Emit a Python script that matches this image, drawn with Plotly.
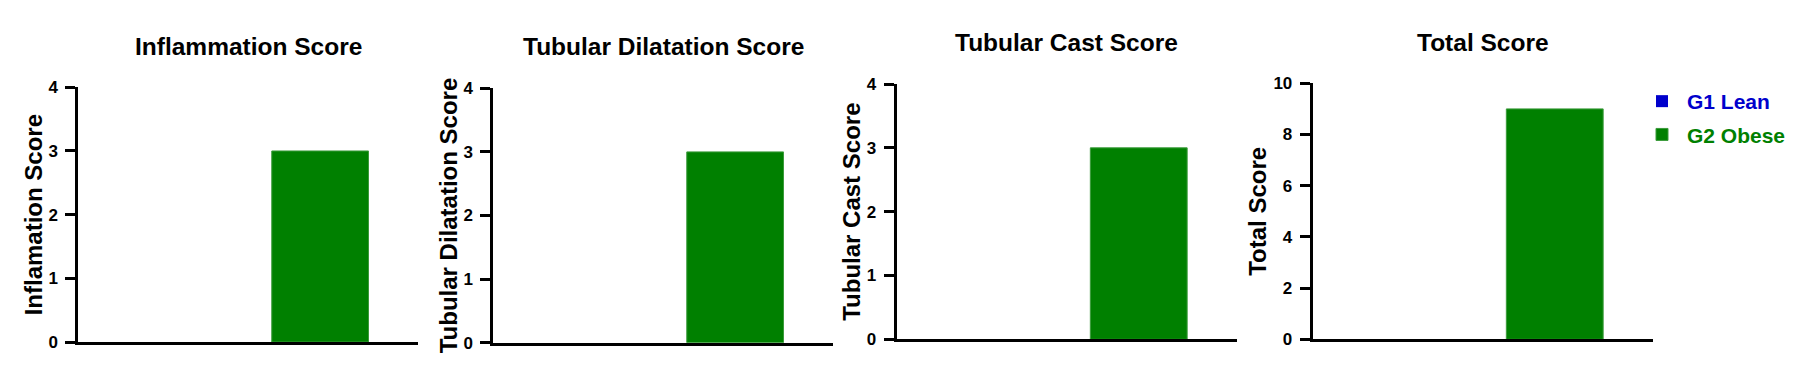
import plotly.graph_objects as go

# ---- data ----
groups = ["G1 Lean", "G2 Obese"]
group_colors = ["#0000CC", "#008000"]
panel_titles = ["Inflammation Score", "Tubular Dilatation Score", "Tubular Cast Score", "Total Score"]
y_titles = ["Inflamation Score", "Tubular Dilatation Score", "Tubular Cast Score", "Total Score"]
g1_values = [0, 0, 0, 0]
g2_values = [3, 3, 3, 9]
y_max = [4, 4, 4, 10]
y_dtick = [1, 1, 1, 2]

# ---- layout (pixel geometry) ----
W, H = 1815, 375
plot_px = [  # x0, x1, ytop, ybottom
    (78.3, 418.0, 87.3, 342.0),
    (493.3, 833.0, 88.3, 342.7),
    (896.7, 1236.7, 84.0, 339.3),
    (1312.7, 1652.7, 83.3, 339.3),
]
title_y_px = [46, 47, 42.7, 42.7]

FONT = "Liberation Sans, Arial, sans-serif"

fig = go.Figure()
series = [g1_values, g2_values]
for i in range(4):
    ax = "" if i == 0 else str(i + 1)
    for g, (name, color) in enumerate(zip(groups, group_colors)):
        fig.add_trace(go.Bar(
            x=[name], y=[series[g][i]],
            name=f"<span style='color:{color}'>{name}</span>",
            marker=dict(color=color, line=dict(color="#3b9b3b", width=1 if g == 1 else 0)),
            width=0.6,
            xaxis="x" + ax, yaxis="y" + ax,
            showlegend=(i == 0),
            legendgroup=name,
        ))

layout = dict(
    template="none",
    width=W, height=H,
    margin=dict(l=0, r=0, t=0, b=0, pad=0, autoexpand=False),
    paper_bgcolor="white", plot_bgcolor="white",
    font=dict(family=FONT, color="black", weight="bold"),
    barmode="overlay",
    showlegend=True,
    legend=dict(
        x=1637 / W, y=1 - 81 / H, xanchor="left", yanchor="top",
        font=dict(family=FONT, size=21, weight="bold"),
        traceorder="grouped", tracegroupgap=3,
        itemwidth=40, bgcolor="rgba(0,0,0,0)", borderwidth=0,
    ),
    annotations=[],
)

for i in range(4):
    x0, x1, yt, yb = plot_px[i]
    ax = "" if i == 0 else str(i + 1)
    layout["xaxis" + ax] = dict(
        domain=[x0 / W, x1 / W], anchor="y" + ax, automargin=False,
        type="category", categoryorder="array", categoryarray=groups,
        range=[-0.5, 1.607],
        showline=True, linewidth=3, linecolor="black",
        showticklabels=False, ticks="", showgrid=False, zeroline=False,
    )
    layout["yaxis" + ax] = dict(
        domain=[1 - yb / H, 1 - yt / H], anchor="x" + ax, automargin=False,
        range=[0, y_max[i]], dtick=y_dtick[i], tick0=0,
        showline=True, linewidth=3, linecolor="black",
        ticks="outside", ticklen=10, tickwidth=2.5, tickcolor="black",
        tickfont=dict(family=FONT, size=17, weight="bold", color="black"),
        ticklabelstandoff=4,
        showgrid=False, zeroline=False,
        title=dict(text=y_titles[i], font=dict(family=FONT, size=24, weight="bold", color="black"), standoff=0),
    )
    layout["annotations"].append(dict(
        text=panel_titles[i], xref="paper", yref="paper",
        x=(x0 + x1) / 2 / W, y=1 - title_y_px[i] / H,
        xanchor="center", yanchor="middle", showarrow=False,
        font=dict(family=FONT, size=24.5, weight="bold", color="black"),
    ))

fig.update_layout(**layout)
fig.write_html(
    "out.html",
    config={"displayModeBar": False},
    post_script="document.body.style.margin='0px';",
)
